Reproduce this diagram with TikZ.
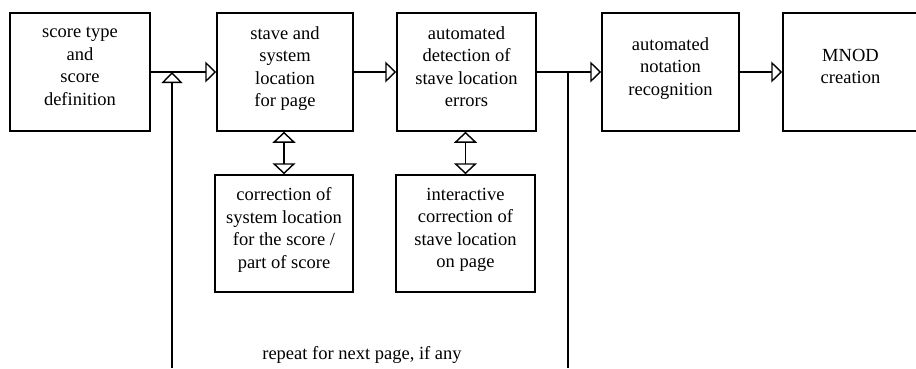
\documentclass[tikz,border=0pt]{standalone}
\usepackage{fontspec}
\setmainfont{Liberation Serif}
\usetikzlibrary{arrows.meta,positioning}
\tikzset{
	stage/.style={draw, line width=1.5pt, minimum width=138pt, minimum height=118pt, align=center, inner sep=0pt, text depth=11pt, font=\fontsize{18.5}{22.5}\selectfont},
	flow/.style={line width=1.4pt, -{Triangle[open, length=11pt, width=21pt, line width=1.4pt]}},
	twoway/.style={line width=1.4pt, {Triangle[open, length=11pt, width=23pt, line width=1.4pt]}-{Triangle[open, length=11pt, width=23pt, line width=1.4pt]}}
}

\begin{document}
\begin{tikzpicture}[x=1pt, y=-1pt]
		%%%%% START %%%%%
		\useasboundingbox (0, 0) rectangle (916, 368);
		
		\node[stage, minimum width=140pt] (scoredef) at (80, 72) {score type\\and\\score\\definition};
		\node[stage, minimum width=136pt] (staveloc) at (285, 72) {stave and\\system\\location\\for page};
		\node[stage, minimum width=139pt] (detect) at (466.5, 72) {automated\\detection of\\stave location\\errors};
		\node[stage, minimum width=137pt] (notation) at (670.5, 72) {automated\\notation\\recognition};
		\node[stage, minimum width=135pt] (mnod) at (850.5, 72) {MNOD\\creation};
		
		\node[stage, minimum width=138pt, minimum height=117pt] (syscorr) at (284, 233.5) {correction of\\system location\\for the score /\\part of score};
		\node[stage, minimum width=139pt, minimum height=117pt] (stavecorr) at (465.5, 233.5) {interactive\\correction of\\stave location\\on page};
		
		\draw[flow] (scoredef) -- (staveloc);
		\draw[flow] (staveloc) -- (detect);
		\draw[flow] (detect) -- (notation);
		\draw[flow] (notation) -- (mnod);
		
		\draw[twoway] (staveloc.south -| syscorr.north) -- (syscorr.north);
		\draw[twoway] (detect.south -| stavecorr.north) -- (stavecorr.north);
		
		% repeat loop
		\coordinate (loopin) at (172, 368);
		\coordinate (loopout) at (568, 368);
		\draw[line width=1.4pt] (loopout |- detect.east) -- (loopout);
		\draw[flow] (loopin) -- (loopin |- scoredef.east);
		
		\node[font=\fontsize{18.5}{22}\selectfont] (repeat) at (362, 355) {repeat for next page, if any};
		
		%%%%% END %%%%%
	\end{tikzpicture}
\end{document}
